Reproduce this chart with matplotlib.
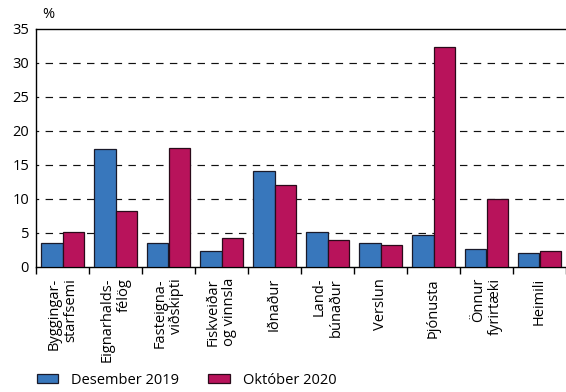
import matplotlib
matplotlib.use("Agg")
import matplotlib.pyplot as plt
import numpy as np
from matplotlib.patches import Patch

plt.rcParams['font.family'] = ['Open Sans', 'DejaVu Sans']

categories = ["Byggingar-\nstarfsemi", "Eignarhalds-\nfélög", "Fasteigna-\nviðskipti",
              "Fiskveiðar\nog vinnsla", "Iðnaður", "Land-\nbúnaður", "Verslun",
              "Þjónusta", "Önnur\nfyrirtæki", "Heimili"]
des2019 = [3.5, 17.3, 3.6, 2.4, 14.1, 5.2, 3.5, 4.7, 2.6, 2.1]
okt2020 = [5.2, 8.2, 17.5, 4.2, 12.1, 3.9, 3.3, 32.3, 10.0, 2.3]
series_names = ["Desember 2019", "Október 2020"]
yticks = [0, 5, 10, 15, 20, 25, 30, 35]

blue = "#3877bc"
red = "#b8135b"

fig = plt.figure(figsize=(5.66, 3.92), dpi=100)
ax = fig.add_axes([36/566, 1-267/392, 1-36/566, (267-29)/392])

x = np.arange(len(categories)) + 0.5
w = 0.405
ax.bar(x - w/2, des2019, width=w, color=blue, edgecolor="#1a1a2a", linewidth=0.9, zorder=3)
ax.bar(x + w/2, okt2020, width=w, color=red, edgecolor="#2a0a1a", linewidth=0.9, zorder=3)

ax.set_xlim(0, len(categories))
ax.set_ylim(0, 35)
ax.set_yticks(yticks)
ax.set_yticklabels([str(t) for t in yticks], fontsize=10.5)
ax.tick_params(axis='y', length=0, pad=5)

for t in yticks[1:-1]:
    ax.axhline(t, color="#111111", linestyle=(4, (6.3, 5.4)), linewidth=0.85, zorder=1)

ax.set_xticks(np.arange(0, len(categories) + 1))
ax.set_xticklabels([])
ax.tick_params(axis='x', length=5, width=1, direction='out')

for xi, lab in zip(x, categories):
    ax.text(xi, -1.6, lab, rotation=90, ha='center', va='top', multialignment='right',
            fontsize=10.5, linespacing=1.15)

ax.spines['right'].set_visible(False)
for s in ['left', 'bottom', 'top']:
    ax.spines[s].set_linewidth(1.0)

fig.text(42/566, 1-14/392, "%", fontsize=10.5, ha='left', va='center')

handles = [Patch(facecolor=blue, edgecolor="#1a1a2a", linewidth=0.9),
           Patch(facecolor=red, edgecolor="#2a0a1a", linewidth=0.9)]
fig.legend(handles, series_names, loc='center left', bbox_to_anchor=(37/566, 1-380/392),
           ncol=2, frameon=False, fontsize=10.5, handlelength=1.45, handleheight=0.6,
           columnspacing=2.0, handletextpad=0.9, borderpad=0, borderaxespad=0)

fig.savefig("out.png", dpi=100)
